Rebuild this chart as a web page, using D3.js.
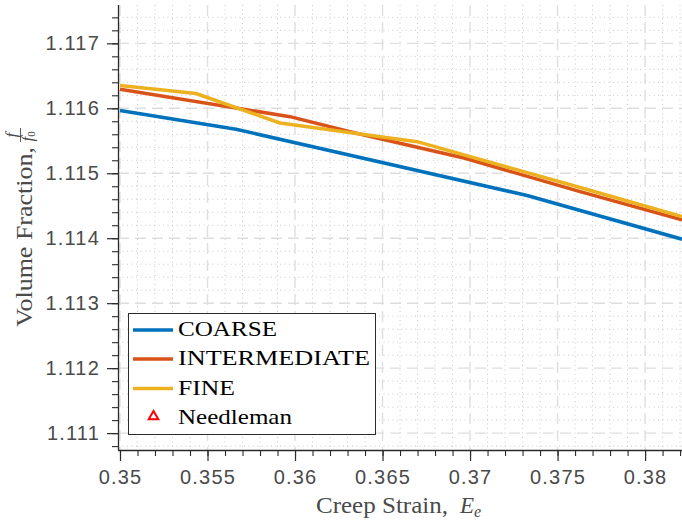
<!DOCTYPE html>
<html>
<head>
<meta charset="utf-8">
<script src="https://cdn.jsdelivr.net/npm/d3@7"></script>
<style>
  body { margin: 0; background: #fff; }
  svg { display: block; }
</style>
</head>
<body>
<svg id="chart" width="682" height="522"></svg>
<script>
// Mesh-convergence curves: void volume fraction against creep strain
const coarseX = [0.35, 0.35663, 0.37326, 0.38211];
const coarseY = [1.115966, 1.115677, 1.114658, 1.113985];

const intermediateX = [0.35, 0.35971, 0.36314, 0.36971, 0.37629, 0.38211];
const intermediateY = [1.116292, 1.115871, 1.115640, 1.115231, 1.114717, 1.114282];

const fineX = [0.35, 0.35434, 0.35914, 0.36697, 0.37629, 0.38211];
const fineY = [1.116351, 1.116228, 1.115774, 1.115486, 1.114780, 1.114332];

// Reference solution (no points inside this window)
const needlemanX = [];
const needlemanY = [];

const seriesNames = ["COARSE", "INTERMEDIATE", "FINE", "Needleman"];

const xTickValues = [0.35, 0.355, 0.36, 0.365, 0.37, 0.375, 0.38];
const xTickLabels = ["0.35", "0.355", "0.36", "0.365", "0.37", "0.375", "0.38"];
const yTickValues = [1.111, 1.112, 1.113, 1.114, 1.115, 1.116, 1.117];
const yTickLabels = ["1.111", "1.112", "1.113", "1.114", "1.115", "1.116", "1.117"];

const xDomain = [0.349886, 0.38211];
const yDomain = [1.11074, 1.11759];

// ---- layout & style ----
const plot = { left: 118, right: 682, top: 5, bottom: 450 };
const colors = ["#0072BD", "#D95319", "#EDB120", "#FF0000"];
const axisColor = "#2b2b2b";
const labelColor = "#4a4a4a";
const sansFont = "'Liberation Sans', Arial, Helvetica, sans-serif";
const serifFont = "'Liberation Serif', 'Times New Roman', serif";

const svg = d3.select("#chart");

const x = d3.scaleLinear().domain(xDomain).range([plot.left, plot.right]);
const y = d3.scaleLinear().domain(yDomain).range([plot.bottom, plot.top]);

// minor tick positions
const xMinor = d3.range(0.350, 0.3825, 0.001).map(v => +v.toFixed(4))
  .filter(v => v >= xDomain[0] && v <= xDomain[1]);
const yMinor = d3.range(1.1108, 1.11761, 0.0002).map(v => +v.toFixed(5))
  .filter(v => v >= yDomain[0] && v <= yDomain[1]);
const isMajorX = v => xTickValues.some(t => Math.abs(t - v) < 1e-7);
const isMajorY = v => yTickValues.some(t => Math.abs(t - v) < 1e-7);

// ---- grid ----
const grid = svg.append("g");
grid.selectAll("line.xminor").data(xMinor.filter(v => !isMajorX(v))).join("line")
  .attr("x1", d => x(d)).attr("x2", d => x(d))
  .attr("y1", plot.top).attr("y2", plot.bottom)
  .attr("stroke", "#c9c9c9").attr("stroke-width", 1).attr("stroke-dasharray", "1,3.5");
grid.selectAll("line.yminor").data(yMinor.filter(v => !isMajorY(v))).join("line")
  .attr("x1", plot.left).attr("x2", plot.right)
  .attr("y1", d => y(d)).attr("y2", d => y(d))
  .attr("stroke", "#c9c9c9").attr("stroke-width", 1).attr("stroke-dasharray", "1,3.5");
grid.selectAll("line.xmajor").data(xTickValues).join("line")
  .attr("x1", d => x(d)).attr("x2", d => x(d))
  .attr("y1", plot.top).attr("y2", plot.bottom)
  .attr("stroke", "#dedede").attr("stroke-width", 1.4).attr("stroke-dasharray", "11,6");
grid.selectAll("line.ymajor").data(yTickValues).join("line")
  .attr("x1", plot.left).attr("x2", plot.right)
  .attr("y1", d => y(d)).attr("y2", d => y(d))
  .attr("stroke", "#dedede").attr("stroke-width", 1.4).attr("stroke-dasharray", "11,6");

// ---- data lines ----
svg.append("clipPath").attr("id", "plotClip").append("rect")
  .attr("x", plot.left).attr("y", plot.top)
  .attr("width", plot.right - plot.left).attr("height", plot.bottom - plot.top);

const series = [
  d3.zip(coarseX, coarseY),
  d3.zip(intermediateX, intermediateY),
  d3.zip(fineX, fineY)
];
const line = d3.line().x(d => x(d[0])).y(d => y(d[1]));
const lines = svg.append("g").attr("clip-path", "url(#plotClip)");
series.forEach((s, i) => {
  lines.append("path").datum(s)
    .attr("d", line)
    .attr("fill", "none")
    .attr("stroke", colors[i])
    .attr("stroke-width", 3.5)
    .attr("stroke-linejoin", "round");
});
const triangle = d3.symbol().type(d3.symbolTriangle).size(40);
lines.selectAll("path.needleman").data(d3.zip(needlemanX, needlemanY)).join("path")
  .attr("transform", d => `translate(${x(d[0])},${y(d[1])})`)
  .attr("d", triangle).attr("fill", "none").attr("stroke", colors[3]).attr("stroke-width", 2);

// ---- axes ----
const xAxisMinor = d3.axisBottom(x).tickValues(xMinor).tickSize(6).tickFormat("");
const xAxis = d3.axisBottom(x).tickValues(xTickValues).tickSize(11)
  .tickFormat((d, i) => xTickLabels[i]).tickPadding(7);
const yAxisMinor = d3.axisLeft(y).tickValues(yMinor).tickSize(6).tickFormat("");
const yAxis = d3.axisLeft(y).tickValues(yTickValues).tickSize(11)
  .tickFormat((d, i) => yTickLabels[i]).tickPadding(7);

function styleAxis(g) {
  g.select(".domain").attr("stroke", axisColor).attr("stroke-width", 1.3);
  g.selectAll(".tick line").attr("stroke", axisColor).attr("stroke-width", 1.2);
  g.selectAll(".tick text").attr("fill", labelColor)
    .attr("font-family", sansFont).attr("font-size", 20)
    .attr("letter-spacing", "1.2px");
}

const gxMinor = svg.append("g").attr("transform", `translate(0,${plot.bottom})`).call(xAxisMinor);
gxMinor.select(".domain").remove();
gxMinor.selectAll(".tick line").attr("stroke", axisColor).attr("stroke-width", 1.1);
const gx = svg.append("g").attr("transform", `translate(0,${plot.bottom})`).call(xAxis)
  .call(g => g.select(".domain").attr("d", `M${plot.left},0.5H${plot.right}`))
  .call(styleAxis);
gx.selectAll(".tick text").attr("dy", "0.78em");

const gyMinor = svg.append("g").attr("transform", `translate(${plot.left},0)`).call(yAxisMinor);
gyMinor.select(".domain").remove();
gyMinor.selectAll(".tick line").attr("stroke", axisColor).attr("stroke-width", 1.1);
const gy = svg.append("g").attr("transform", `translate(${plot.left},0)`).call(yAxis)
  .call(g => g.select(".domain").attr("d", `M0.5,${plot.top}V${plot.bottom}`))
  .call(styleAxis);

// ---- axis titles ----
const xt = svg.append("text")
  .attr("x", 316).attr("y", 513)
  .attr("font-family", serifFont).attr("font-size", 23).attr("fill", labelColor);
xt.append("tspan").text("Creep Strain,")
  .attr("textLength", 132).attr("lengthAdjust", "spacingAndGlyphs");
xt.append("tspan").attr("x", 460).attr("font-style", "italic").text("E");
xt.append("tspan").attr("font-style", "italic").attr("font-size", 16).attr("dy", 4).text("e");

const yt = svg.append("g").attr("transform", "translate(32,327) rotate(-90)")
  .attr("font-family", serifFont).attr("fill", labelColor);
yt.append("text").attr("x", 0).attr("y", 0).attr("font-size", 23)
  .attr("textLength", 180).attr("lengthAdjust", "spacingAndGlyphs")
  .text("Volume Fraction,");
// fraction f / f0
yt.append("text").attr("x", 192).attr("y", -15.5).attr("font-size", 17)
  .attr("font-style", "italic").attr("text-anchor", "middle").text("f");
yt.append("line").attr("x1", 185).attr("x2", 199).attr("y1", -11.5).attr("y2", -11.5)
  .attr("stroke", labelColor).attr("stroke-width", 0.9);
const den = yt.append("text").attr("x", 185.5).attr("y", 1).attr("font-size", 17)
  .attr("font-style", "italic");
den.append("tspan").text("f");
den.append("tspan").attr("font-size", 11).attr("dy", 2).attr("font-style", "normal").text("0");

// ---- legend ----
const legend = svg.append("g");
legend.append("rect")
  .attr("x", 128.5).attr("y", 313.5).attr("width", 247).attr("height", 121)
  .attr("fill", "#fff").attr("stroke", axisColor).attr("stroke-width", 1);

const legendRows = [
  { y: 330, base: 336, len: 99 },
  { y: 359, base: 365, len: 192 },
  { y: 388.5, base: 395, len: 57 },
  { y: 416.5, base: 424, len: 114 }
];
legendRows.forEach((r, i) => {
  if (i < 3) {
    legend.append("line")
      .attr("x1", 133).attr("x2", 173).attr("y1", r.y).attr("y2", r.y)
      .attr("stroke", colors[i]).attr("stroke-width", 3.5);
  } else {
    legend.append("path")
      .attr("transform", `translate(153.5,${r.y})`)
      .attr("d", triangle).attr("fill", "none")
      .attr("stroke", colors[3]).attr("stroke-width", 2);
  }
  legend.append("text")
    .attr("x", 178).attr("y", r.base)
    .attr("font-family", serifFont).attr("font-size", 22).attr("fill", "#000")
    .attr("textLength", r.len).attr("lengthAdjust", "spacingAndGlyphs")
    .text(seriesNames[i]);
});
</script>
</body>
</html>
